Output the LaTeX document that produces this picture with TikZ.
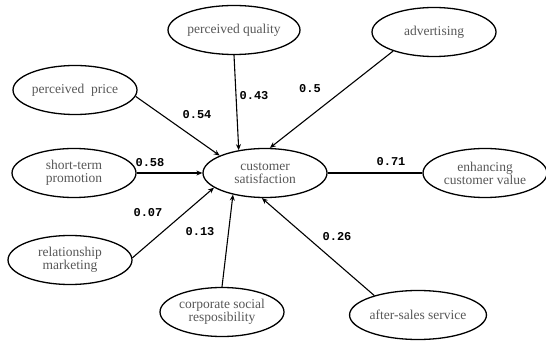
\documentclass[tikz,border=0pt]{standalone}
\usepackage{fontspec}
\setmainfont{Liberation Serif}
\newfontfamily\weightfont{Liberation Mono}
\usepackage{tikz}
\usetikzlibrary{shapes.geometric, arrows.meta}

\begin{document}
\begin{tikzpicture}[
    x=1pt, y=1pt,
    factor/.style={ellipse, draw, line width=1.3pt, minimum width=124pt, minimum height=49pt, inner sep=0pt, align=center, text=black!66, font=\fontsize{13.5}{13}\selectfont},
    arrow/.style={-{Stealth[length=6pt, width=5pt]}, line width=1.1pt},
    link/.style={line width=1.1pt},
    weight/.style={font=\weightfont\bfseries\fontsize{12}{12}\selectfont, inner sep=0pt}
]
\useasboundingbox (0,0) rectangle (546,340);

\node[factor] (sat) at (265,167) {customer\\satisfaction};
\node[factor] (quality) at (234,310) {perceived quality};
\node[factor] (advert) at (434,308) {advertising};
\node[factor] (price) at (75,250) {perceived\ \ price};
\node[factor] (promo) at (74,167) {short-term\\promotion};
\node[factor] (value) at (485,167) {enhancing\\customer value};
\node[factor] (relation) at (70,80) {relationship\\marketing};
\node[factor] (csr) at (222,28) {corporate social\\resposibility};
\node[factor] (service) at (418,25) {after-sales service};

\draw[arrow] (quality.south) -- (sat.139);
\draw[arrow] (advert.205) -- (sat.79);
\draw[arrow] (price.354) -- (sat.159);
\draw[arrow] (promo) -- (sat);
\draw[link] (sat) -- (value);
\draw[arrow] (relation.2) -- (sat.196);
\draw[arrow] (csr.north) -- (sat.214);
\draw[arrow] (service.156) -- (sat.263);

\node[weight] (w1) at (254,244) {0.43};
\node[weight] (w2) at (310,251) {0.5};
\node[weight] (w3) at (197,225) {0.54};
\node[weight] (w4) at (150,177) {0.58};
\node[weight] (w5) at (391,178) {0.71};
\node[weight] (w6) at (148,127) {0.07};
\node[weight] (w7) at (200,108) {0.13};
\node[weight] (w8) at (337,103) {0.26};

\end{tikzpicture}
\end{document}
